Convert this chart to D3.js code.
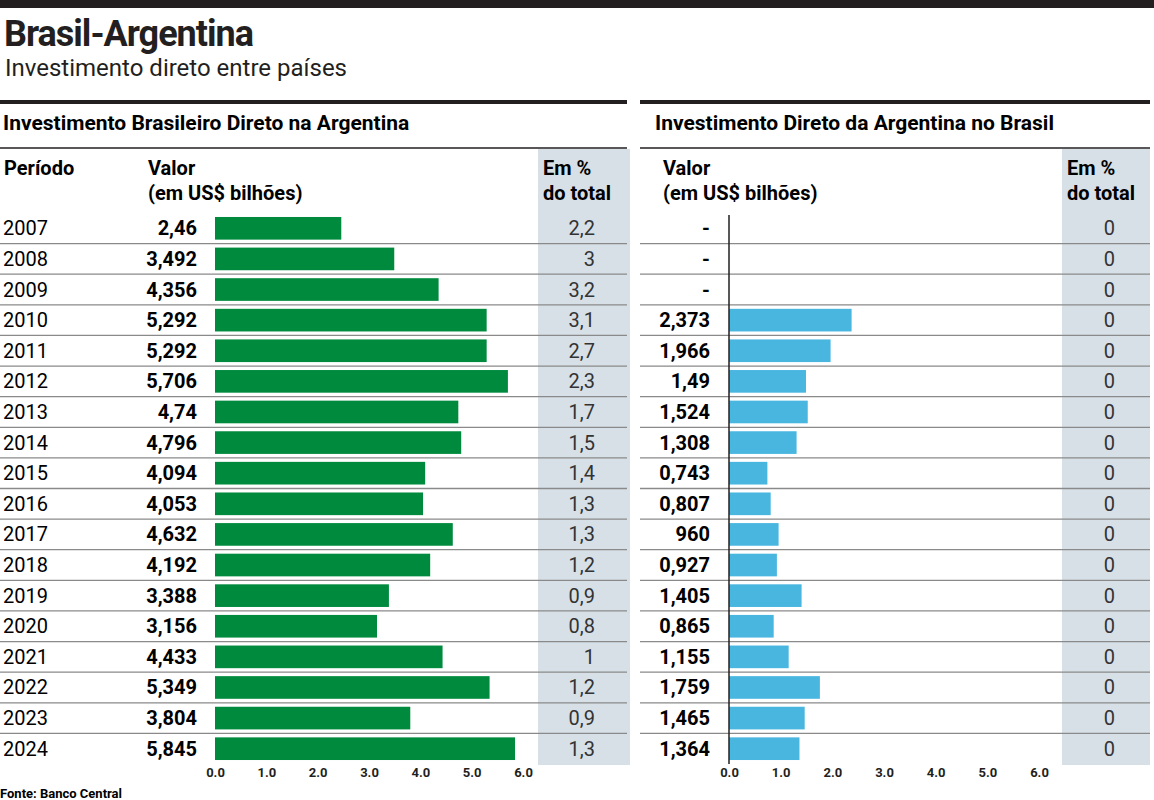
<!DOCTYPE html>
<html><head><meta charset="utf-8">
<script src="https://cdn.jsdelivr.net/npm/d3@7"></script>
<style>body{margin:0;background:#fff}text{font-family:"Liberation Sans Narrow","Roboto",sans-serif}</style>
</head><body><svg id="c" width="1154" height="800"></svg>
<script>
const years = ["2007","2008","2009","2010","2011","2012","2013","2014","2015","2016","2017","2018","2019","2020","2021","2022","2023","2024"];
const brValues = [2.46,3.492,4.356,5.292,5.292,5.706,4.74,4.796,4.094,4.053,4.632,4.192,3.388,3.156,4.433,5.349,3.804,5.845];
const brLabels = ["2,46","3,492","4,356","5,292","5,292","5,706","4,74","4,796","4,094","4,053","4,632","4,192","3,388","3,156","4,433","5,349","3,804","5,845"];
const brPct = ["2,2","3","3,2","3,1","2,7","2,3","1,7","1,5","1,4","1,3","1,3","1,2","0,9","0,8","1","1,2","0,9","1,3"];
const arValues = [0,0,0,2.373,1.966,1.49,1.524,1.308,0.743,0.807,0.96,0.927,1.405,0.865,1.155,1.759,1.465,1.364];
const arLabels = ["-","-","-","2,373","1,966","1,49","1,524","1,308","0,743","0,807","960","0,927","1,405","0,865","1,155","1,759","1,465","1,364"];
const arPct = ["0","0","0","0","0","0","0","0","0","0","0","0","0","0","0","0","0","0"];
const ticks = [0,1,2,3,4,5,6];

const svg = d3.select("#c");
svg.append("rect").attr("x",0).attr("y",0).attr("width",1154).attr("height",8).attr("fill","#231f20");
svg.append("text").attr("x",4).attr("y",46).attr("font-size",36).attr("font-weight","bold").attr("letter-spacing",-1).attr("fill","#231f20").text("Brasil-Argentina");
svg.append("text").attr("x",5).attr("y",76).attr("font-size",24).attr("fill","#231f20").text("Investimento direto entre países");

const y = d3.scaleBand().domain(years).range([213,764]).paddingInner(0.26).paddingOuter(0.13);
const rowStep = y.step();

function panel(o){
  const g = svg.append("g");
  g.append("rect").attr("x",o.x0).attr("y",100).attr("width",o.x1-o.x0).attr("height",4).attr("fill","#231f20");
  g.append("text").attr("x",o.titleX).attr("y",130).attr("font-size",21).attr("font-weight","bold").text(o.title);
  g.append("line").attr("x1",o.x0).attr("x2",o.x1).attr("y1",148).attr("y2",148).attr("stroke","#231f20").attr("stroke-width",1.5);
  g.append("rect").attr("x",o.gx).attr("y",149).attr("width",o.gw).attr("height",616).attr("fill","#d7e0e7");
  const hd = (x,t1,t2,anchor)=>{
    const t=g.append("text").attr("x",x).attr("font-size",20).attr("font-weight","bold").attr("text-anchor",anchor||"start");
    t.append("tspan").attr("x",x).attr("y",175).text(t1);
    if(t2) t.append("tspan").attr("x",x).attr("y",200).text(t2);
  };
  if(o.periodo) hd(o.x0+4,"Período");
  hd(o.valX,"Valor","(em US$ bilhões)");
  hd(o.gx+5,"Em %","do total");
  // separators
  years.slice(1).forEach(yr=>{
    const yy = y(yr) - (rowStep - y.bandwidth())/2;
    g.append("line").attr("x1",o.x0).attr("x2",o.x1).attr("y1",yy).attr("y2",yy).attr("stroke","#8a8a8a").attr("stroke-width",1.3);
  });
  const x = d3.scaleLinear().domain([0,6]).range([o.ax0,o.ax1]);
  g.selectAll(".bar").data(o.values).join("rect")
    .attr("x",x(0)).attr("y",(d,i)=>y(years[i])).attr("height",y.bandwidth())
    .attr("width",d=>x(d)-x(0)).attr("fill",o.color);
  if(o.axisLine) g.append("line").attr("x1",x(0)).attr("x2",x(0)).attr("y1",215).attr("y2",764).attr("stroke","#231f20").attr("stroke-width",1.5);
  const cy = i => y(years[i]) + y.bandwidth()/2 + 7;
  if(o.periodo) g.selectAll(".yr").data(years).join("text").attr("x",o.x0+3).attr("y",(d,i)=>cy(i)).attr("font-size",20).text(d=>d);
  g.selectAll(".vl").data(o.labels).join("text").attr("x",o.valR).attr("y",(d,i)=>cy(i)).attr("text-anchor","end").attr("font-size",20).attr("font-weight","bold").text(d=>d);
  g.selectAll(".pc").data(o.pct).join("text").attr("x",o.pctR).attr("y",(d,i)=>cy(i)).attr("text-anchor","end").attr("font-size",20).attr("fill","#333").text(d=>d);
  const ax = g.append("g").attr("transform","translate(0,764)").call(d3.axisBottom(x).tickValues(ticks).tickSize(0).tickPadding(4));
  ax.select(".domain").remove();
  ax.selectAll("text").attr("font-size",13).attr("font-weight","bold").attr("fill","#231f20").style("font-family","'Liberation Sans Narrow',Roboto,sans-serif");
}

panel({x0:0,x1:627,titleX:3,title:"Investimento Brasileiro Direto na Argentina",gx:538,gw:92,periodo:true,valX:148,valR:197,pctR:595,ax0:215,ax1:523,values:brValues,labels:brLabels,pct:brPct,color:"#008a3e",axisLine:false});
panel({x0:640,x1:1150,titleX:655,title:"Investimento Direto da Argentina no Brasil",gx:1062,gw:88,periodo:false,valX:663,valR:710,pctR:1115,ax0:729,ax1:1039,values:arValues,labels:arLabels,pct:arPct,color:"#49b6e0",axisLine:true});

svg.append("text").attr("x",0).attr("y",798).attr("font-size",13).attr("font-weight","bold").text("Fonte: Banco Central");
</script></body></html>
